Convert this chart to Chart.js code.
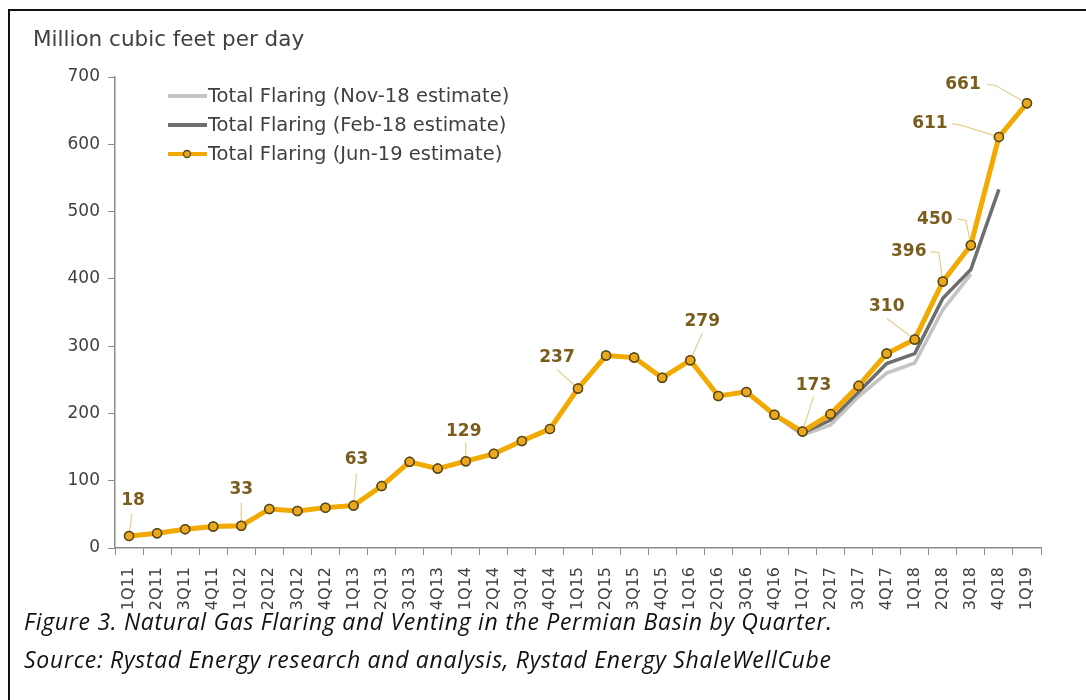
<!DOCTYPE html>
<html>
<head>
<meta charset="utf-8">
<script src="https://cdn.jsdelivr.net/npm/chart.js@4"></script>
<style>
  body { margin: 0; background: #fff; }
  #frame { position: absolute; left: 8px; top: 9px; width: 1100px; height: 720px;
           border-left: 2px solid #111; border-top: 2px solid #111; }
  #wrap { position: absolute; left: 0; top: 0; width: 1086px; height: 700px; }
  #ytitle { position: absolute; left: 33px; top: 26px; font: 21.5px "DejaVu Sans", Verdana, sans-serif; color: #404040; }
  .cap { position: absolute; left: 24px; font: italic 23px "Open Sans", sans-serif; letter-spacing: 0.7px; color: #111; }
</style>
</head>
<body>
<div id="frame"></div>
<div id="wrap"><canvas id="myChart" width="1086" height="700"></canvas></div>
<div id="ytitle">Million cubic feet per day</div>
<div class="cap" style="top:605px">Figure 3. Natural Gas Flaring and Venting in the Permian Basin by Quarter.</div>
<div class="cap" style="top:643px">Source: Rystad Energy research and analysis, Rystad Energy ShaleWellCube</div>
<script>
let quarters = ['1Q11','2Q11','3Q11','4Q11','1Q12','2Q12','3Q12','4Q12','1Q13','2Q13','3Q13','4Q13',
  '1Q14','2Q14','3Q14','4Q14','1Q15','2Q15','3Q15','4Q15','1Q16','2Q16','3Q16','4Q16',
  '1Q17','2Q17','3Q17','4Q17','1Q18','2Q18','3Q18','4Q18','1Q19'];

let nov18 = [18,22,28,32,33,58,55,60,63,92,128,118,129,140,159,177,237,286,283,253,279,226,232,198,
  168,183,225,260,275,354,407,null,null];
let feb18 = [18,22,28,32,33,58,55,60,63,92,128,118,129,140,159,177,237,286,283,253,279,226,232,198,
  171,190,232,274,289,371,414,533,null];
let jun19 = [18,22,28,32,33,58,55,60,63,92,128,118,129,140,159,177,237,286,283,253,279,226,232,198,
  173,199,241,289,310,396,450,611,661];

let seriesNames = ['Total Flaring (Nov-18 estimate)', 'Total Flaring (Feb-18 estimate)', 'Total Flaring (Jun-19 estimate)'];
let labelledPoints = [0,4,8,12,16,20,24,28,29,30,31,32];

let yTicks = [0,100,200,300,400,500,600,700];

// label placement: [label dx, label dy, leader start dx, leader start dy]
let labelPos = {
  0: [4,-35,3,-22], 4: [0,-36,0,-23], 8: [3,-46,3,-32], 12: [-2,-30,0,-19],
  16: [-21,-31,-21,-19], 20: [12,-39,12,-27], 24: [11,-46,11,-35], 28: [-28,-33,-28,-21],
  29: [-34,-30,-12,-30], 30: [-36,-26,-13,-26], 31: [-69,-13,-47,-13], 32: [-64,-19,-40,-19]
};

const FONT = '"DejaVu Sans", Verdana, sans-serif';

const pointLabels = {
  id: 'pointLabels',
  afterDatasetsDraw(chart) {
    const ctx = chart.ctx;
    const meta = chart.getDatasetMeta(2);
    ctx.save();
    labelledPoints.forEach(i => {
      const p = meta.data[i];
      const o = labelPos[i];
      ctx.strokeStyle = '#e3cf8c';
      ctx.lineWidth = 1.2;
      ctx.beginPath();
      ctx.moveTo(p.x + o[2], p.y + o[3]);
      if (o[2] !== o[0] && o[3] === o[1]) {
        ctx.lineTo(p.x + o[2] + 8, p.y + o[3] + 1);
      }
      ctx.lineTo(p.x, p.y);
      ctx.stroke();
      ctx.fillStyle = '#7a5d1c';
      ctx.font = 'bold 17px ' + FONT;
      ctx.textAlign = 'center';
      ctx.textBaseline = 'middle';
      ctx.fillText(String(jun19[i]), p.x + o[0], p.y + o[1]);
    });
    // redraw points on top of leaders
    meta.data.forEach(pt => pt.draw(ctx, chart.chartArea));
    ctx.restore();
  }
};

const legendBox = {
  id: 'legendBox',
  afterDraw(chart) {
    const ctx = chart.ctx;
    const colors = ['#c4c4c4', '#6e6e6e', '#f2a900'];
    ctx.save();
    ctx.font = '19.5px ' + FONT;
    ctx.textBaseline = 'middle';
    ctx.fillStyle = '#404040';
    seriesNames.forEach((name, k) => {
      const y = 96 + k * 29;
      ctx.strokeStyle = colors[k];
      ctx.lineWidth = 4;
      ctx.beginPath();
      ctx.moveTo(168, y);
      ctx.lineTo(207, y);
      ctx.stroke();
      if (k === 2) {
        ctx.beginPath();
        ctx.arc(187, y, 3.5, 0, Math.PI * 2);
        ctx.fillStyle = '#e8a91e';
        ctx.fill();
        ctx.strokeStyle = '#5b4716';
        ctx.lineWidth = 1.3;
        ctx.stroke();
        ctx.fillStyle = '#404040';
      }
      ctx.fillText(name, 208, y + 1);
    });
    ctx.restore();
  }
};

let chart = new Chart(document.getElementById('myChart').getContext('2d'), {
  type: 'line',
  data: {
    labels: quarters,
    datasets: [
      { label: seriesNames[0], data: nov18, borderColor: '#c4c4c4', borderWidth: 3.5,
        pointRadius: 0, tension: 0, order: 3 },
      { label: seriesNames[1], data: feb18, borderColor: '#6e6e6e', borderWidth: 3.5,
        pointRadius: 0, tension: 0, order: 2 },
      { label: seriesNames[2], data: jun19, borderColor: '#f2a900', borderWidth: 5,
        pointRadius: 4.5, pointBackgroundColor: '#e8a91e', pointBorderColor: '#5b4716',
        pointBorderWidth: 1.5, tension: 0, order: 1 }
    ]
  },
  options: {
    responsive: false,
    animation: false,
    layout: { padding: { left: 0, right: 45, top: 77, bottom: 82 } },
    plugins: { legend: { display: false }, tooltip: { enabled: false } },
    scales: {
      x: {
        offset: true,
        grid: { offset: true, drawOnChartArea: false, drawTicks: true, tickLength: 7, color: '#8a8a8a' },
        border: { color: '#8a8a8a', width: 1.5 },
        ticks: { minRotation: 90, maxRotation: 90, autoSkip: false, color: '#404040',
                 font: { family: FONT, size: 16 }, padding: 12 },
        afterFit(scale) { scale.height = 70; }
      },
      y: {
        min: 0, max: 700,
        afterBuildTicks(scale) { scale.ticks = yTicks.map(v => ({ value: v })); },
        grid: { drawOnChartArea: false, drawTicks: true, tickLength: 7, color: '#8a8a8a' },
        border: { color: '#8a8a8a', width: 1.5 },
        ticks: { color: '#404040', font: { family: FONT, size: 17 }, padding: 8 },
        afterFit(scale) { scale.width = 115; }
      }
    }
  },
  plugins: [pointLabels, legendBox]
});
</script>
</body>
</html>
